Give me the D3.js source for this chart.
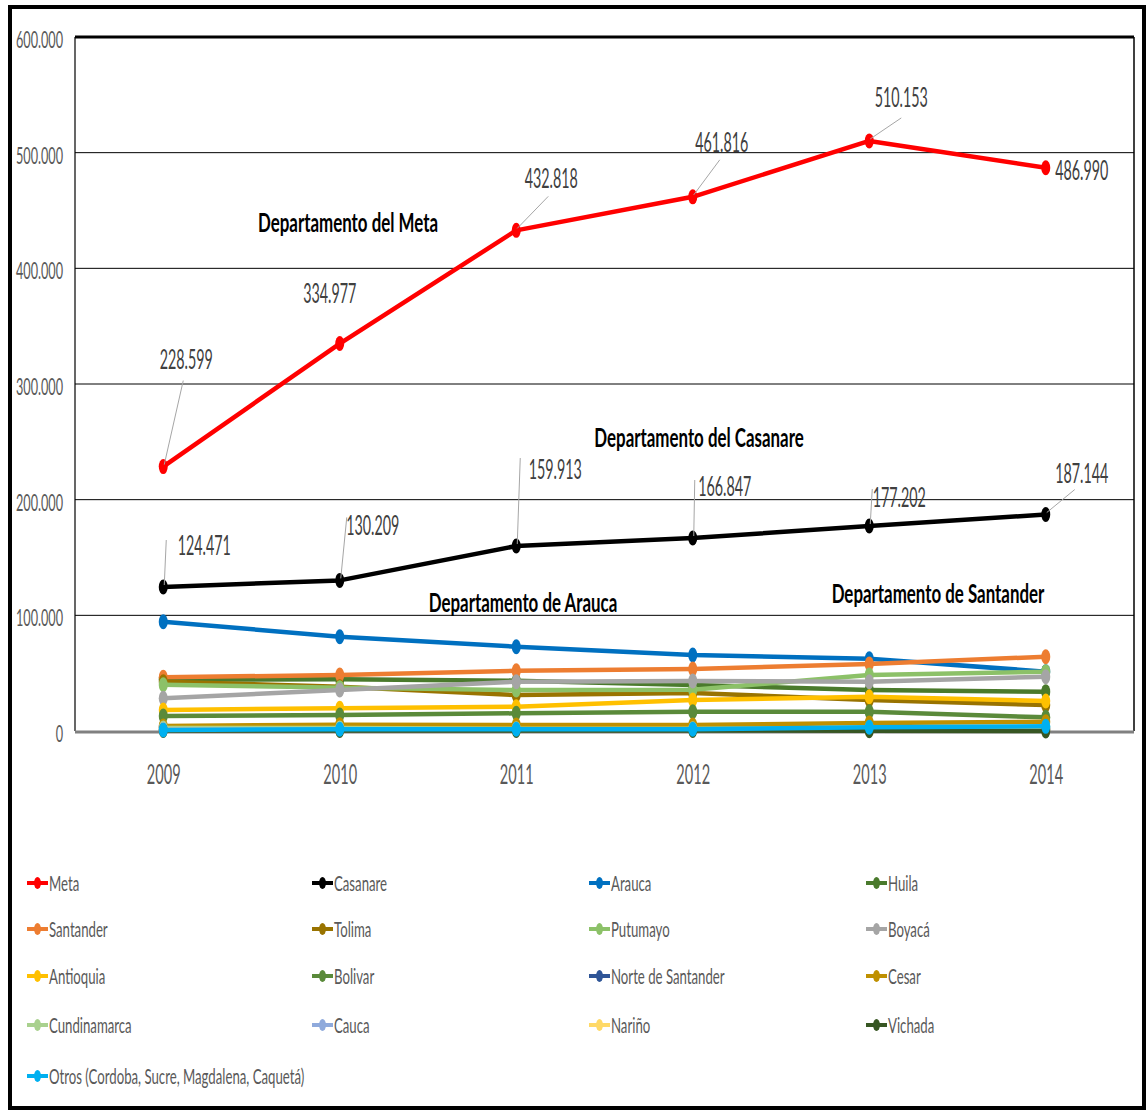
<!DOCTYPE html>
<html>
<head>
<meta charset="utf-8">
<title>Produccion por departamento</title>
<script src="https://cdnjs.cloudflare.com/ajax/libs/d3/7.8.5/d3.min.js"></script>
<style>
body { margin: 0; background: #fff; }
text { font-family: Lato, 'DejaVu Sans Condensed', sans-serif; }
</style>
</head>
<body>
<svg id="chart" width="1147" height="1114"></svg>
<script>
// years on the x axis
var years = ["2009", "2010", "2011", "2012", "2013", "2014"];

// values
var meta        = [228599, 334977, 432818, 461816, 510153, 486990];
var casanare    = [124471, 130209, 159913, 166847, 177202, 187144];
var arauca      = [94500, 81500, 72900, 65700, 62500, 51300];
var huila       = [44500, 44700, 43500, 39800, 35400, 34000];
var santander   = [46400, 48400, 52100, 53600, 58000, 64200];
var tolima      = [42600, 38300, 31100, 32800, 26800, 22500];
var putumayo    = [40000, 37500, 35400, 35600, 48500, 51300];
var boyaca      = [28300, 35400, 42600, 43200, 42600, 46900];
var antioquia   = [18200, 19600, 21000, 26800, 29600, 25900];
var bolivar     = [13000, 13800, 15300, 16700, 16700, 11800];
var norteSant   = [3000, 2500, 2500, 2500, 2000, 2000];
var cesar       = [4300, 5500, 5200, 5200, 7000, 8000];
var cundinamarca = [2500, 2500, 2000, 2000, 2500, 3000];
var cauca       = [1500, 1500, 1500, 1500, 1500, 1500];
var narino      = [1000, 1000, 1000, 1000, 1000, 1000];
var vichada     = [500, 500, 500, 500, 200, 0];
var otros       = [900, 1500, 1500, 1500, 3200, 4000];

var yTicks = [0, 100000, 200000, 300000, 400000, 500000, 600000];

var series = [
  {name: "Meta", values: meta, color: "#FF0000"},
  {name: "Casanare", values: casanare, color: "#000000"},
  {name: "Arauca", values: arauca, color: "#0070C0"},
  {name: "Huila", values: huila, color: "#4A7A2C"},
  {name: "Santander", values: santander, color: "#ED7D31"},
  {name: "Tolima", values: tolima, color: "#997300"},
  {name: "Putumayo", values: putumayo, color: "#8CC168"},
  {name: "Boyacá", values: boyaca, color: "#A5A5A5"},
  {name: "Antioquia", values: antioquia, color: "#FFC000"},
  {name: "Bolivar", values: bolivar, color: "#5A8A3A"},
  {name: "Norte de Santander", values: norteSant, color: "#2F5597"},
  {name: "Cesar", values: cesar, color: "#BF9000"},
  {name: "Cundinamarca", values: cundinamarca, color: "#A9D18E"},
  {name: "Cauca", values: cauca, color: "#8FAADC"},
  {name: "Nariño", values: narino, color: "#FFD966"},
  {name: "Vichada", values: vichada, color: "#375623"},
  {name: "Otros (Cordoba, Sucre, Magdalena, Caquetá)", values: otros, color: "#00B0F0"}
];

var svg = d3.select("#chart");

var locale = d3.formatLocale({decimal: ",", thousands: ".", grouping: [3], currency: ["$", ""]});
var fmt = locale.format(",.0f");

var x = d3.scalePoint().domain(years).range([75, 1134]).padding(0.5);
var y = d3.scaleLinear().domain([0, 600000]).range([731, 37]);

// the picture's text is squeezed sideways, so every label gets a scale(sx,1)
function sqText(parent, px, py, sx) {
  return parent.append("text")
    .attr("transform", "translate(" + px + "," + py + ") scale(" + sx + ",1)");
}

// outer frame
svg.append("rect")
  .attr("x", 10).attr("y", 7)
  .attr("width", 1134).attr("height", 1101)
  .attr("fill", "none").attr("stroke", "#000").attr("stroke-width", 4);

// gridlines
svg.append("g").selectAll("line")
  .data(yTicks.filter(function(d) { return d > 0; }))
  .enter().append("line")
  .attr("x1", 75).attr("x2", 1134)
  .attr("y1", function(d) { return y(d); })
  .attr("y2", function(d) { return y(d); })
  .attr("stroke", "#000")
  .attr("stroke-width", function(d) { return d == 600000 ? 3 : 1; });

// plot sides
svg.append("line").attr("x1", 75).attr("x2", 75).attr("y1", y(600000)).attr("y2", y(0))
  .attr("stroke", "#000").attr("stroke-width", 1.2);
svg.append("line").attr("x1", 1134).attr("x2", 1134).attr("y1", y(600000)).attr("y2", y(0))
  .attr("stroke", "#000").attr("stroke-width", 1.5);
svg.append("line").attr("x1", 75).attr("x2", 1134).attr("y1", y(0) + 1).attr("y2", y(0) + 1)
  .attr("stroke", "#808080").attr("stroke-width", 3);

// y axis
var ySx = 0.55;
var yAxis = d3.axisLeft(y).tickValues(yTicks).tickSize(0).tickPadding(12)
  .tickFormat(function(d) { return fmt(d); });
var gy = svg.append("g").attr("transform", "translate(75,0)").call(yAxis);
gy.select(".domain").remove();
gy.selectAll("text")
  .attr("x", -12 / ySx)
  .attr("dy", "0.45em")
  .attr("transform", "scale(" + ySx + ",1)")
  .attr("font-size", 23).attr("fill", "#595959")
  .style("font-family", "Lato, 'DejaVu Sans Condensed', sans-serif");

// x axis
var xSx = 0.56;
var xAxis = d3.axisBottom(x).tickSize(0);
var gx = svg.append("g").attr("transform", "translate(0," + y(0) + ")").call(xAxis);
gx.select(".domain").remove();
gx.selectAll("text")
  .attr("y", 53).attr("dy", 0)
  .attr("transform", "scale(" + xSx + ",1)")
  .attr("font-size", 26).attr("fill", "#595959")
  .style("font-family", "Lato, 'DejaVu Sans Condensed', sans-serif");

// lines and markers
var line = d3.line()
  .x(function(d, i) { return x(years[i]); })
  .y(function(d) { return y(d); });

series.forEach(function(s) {
  var g = svg.append("g");
  g.append("path")
    .attr("d", line(s.values))
    .attr("fill", "none")
    .attr("stroke", s.color)
    .attr("stroke-width", 4.5)
    .attr("stroke-linejoin", "round");
  g.selectAll("ellipse")
    .data(s.values)
    .enter().append("ellipse")
    .attr("cx", function(d, i) { return x(years[i]); })
    .attr("cy", function(d) { return y(d); })
    .attr("rx", 4.5).attr("ry", 7.5)
    .attr("fill", s.color);
});

// data labels: text centre and leader end, relative to the point
var metaLabels = [
  {dx: 23, dy: -108, lx: 20, ly: -86},
  {dx: -10, dy: -51, lx: null},
  {dx: 35, dy: -52, lx: 32, ly: -34},
  {dx: 29, dy: -55, lx: 27, ly: -37},
  {dx: 32, dy: -44, lx: 32, ly: -23},
  {dx: 36, dy: 2, lx: null}
];
var casanareLabels = [
  {dx: 41, dy: -42, lx: 3, ly: -47},
  {dx: 33, dy: -55, lx: 7, ly: -63},
  {dx: 39, dy: -77, lx: 4, ly: -88},
  {dx: 32, dy: -52, lx: 2, ly: -58},
  {dx: 30, dy: -29, lx: 3, ly: -37},
  {dx: 36, dy: -42, lx: 29, ly: -25}
];

function addLabels(s, labels) {
  var g = svg.append("g");
  s.values.forEach(function(v, i) {
    var px = x(years[i]), py = y(v), L = labels[i];
    if (L.lx !== null) {
      g.append("line")
        .attr("x1", px + 1).attr("y1", py - 2)
        .attr("x2", px + L.lx).attr("y2", py + L.ly)
        .attr("stroke", "#A6A6A6").attr("stroke-width", 1);
    }
    sqText(g, px + L.dx, py + L.dy + 10, 0.53)
      .attr("text-anchor", "middle")
      .attr("font-size", 27)
      .attr("fill", "#404040")
      .text(fmt(v));
  });
}
addLabels(series[0], metaLabels);
addLabels(series[1], casanareLabels);

// annotations
var notes = [
  {text: "Departamento del Meta", x: 348, y: 232},
  {text: "Departamento del Casanare", x: 699, y: 447},
  {text: "Departamento de Arauca", x: 523, y: 612},
  {text: "Departamento de Santander", x: 938, y: 603}
];
var gNotes = svg.append("g");
notes.forEach(function(d) {
  sqText(gNotes, d.x, d.y, 0.65)
    .attr("text-anchor", "middle")
    .attr("font-size", 26)
    .attr("font-weight", "bold")
    .attr("fill", "#000")
    .text(d.text);
});

// legend
var legCols = [27, 312, 589, 866];
var legRows = [883, 929, 976, 1025, 1076];
var legend = svg.append("g").selectAll("g")
  .data(series)
  .enter().append("g")
  .attr("transform", function(d, i) {
    return "translate(" + legCols[i % 4] + "," + legRows[Math.floor(i / 4)] + ")";
  });
legend.append("line")
  .attr("x1", 0).attr("x2", 21).attr("y1", 0).attr("y2", 0)
  .attr("stroke", function(d) { return d.color; })
  .attr("stroke-width", 4);
legend.append("ellipse")
  .attr("cx", 10.5).attr("cy", 0).attr("rx", 3.5).attr("ry", 6)
  .attr("fill", function(d) { return d.color; });
legend.each(function(d) {
  sqText(d3.select(this), 22, 8, 0.6)
    .attr("font-size", 22)
    .attr("fill", "#595959")
    .text(d.name);
});
</script>
</body>
</html>
